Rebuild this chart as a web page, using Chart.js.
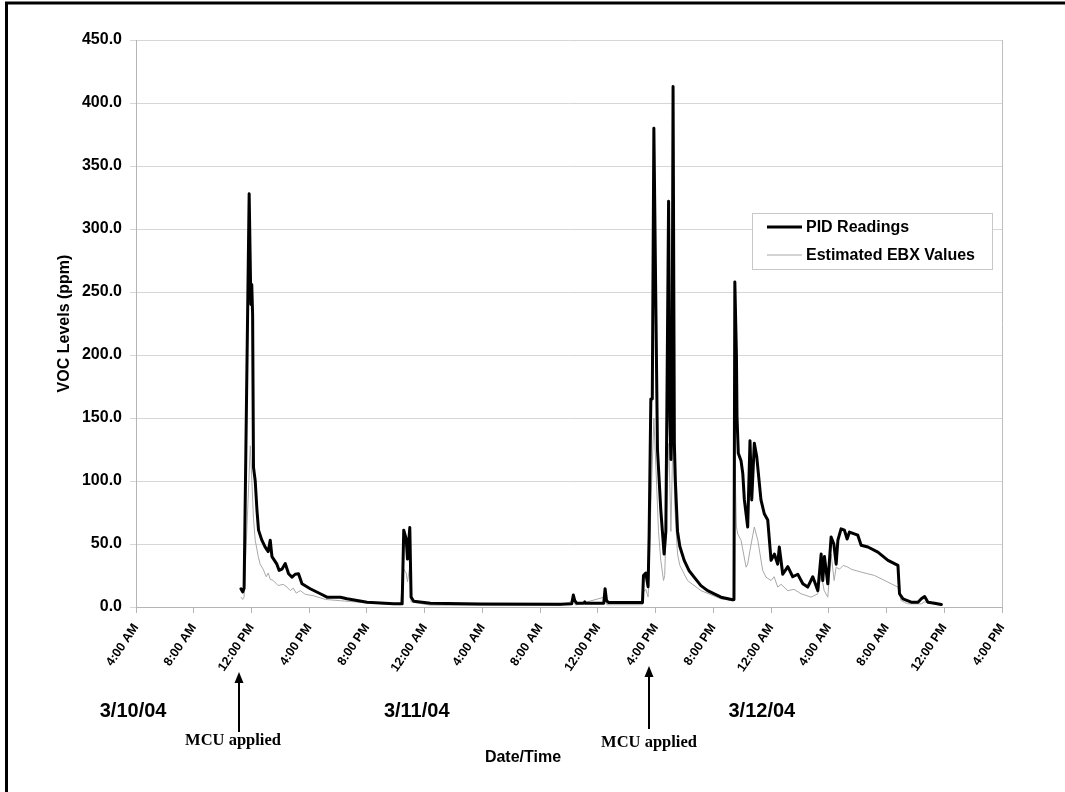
<!DOCTYPE html>
<html>
<head>
<meta charset="utf-8">
<script src="https://cdn.jsdelivr.net/npm/chart.js@4.4.0/dist/chart.umd.min.js"></script>
<style>
  html, body { margin: 0; padding: 0; background: #fff; }
</style>
</head>
<body>
<canvas id="vocChart" width="1065" height="792"></canvas>
<script>
// Hours counted from 3/10/04 12:00 AM
const pidHours = [11.27, 11.39, 11.49, 11.84, 11.96, 12.02, 12.08, 12.14, 12.26, 12.38, 12.49, 12.72, 12.95, 13.16, 13.30, 13.42, 13.76, 13.92, 14.11, 14.34, 14.57, 14.81, 15.03, 15.26, 15.50, 16.07, 16.77, 17.23, 18.16, 18.62, 20.01, 21.86, 22.44, 22.55, 22.72, 22.81, 22.97, 23.06, 23.24, 24.40, 27.87, 33.42, 34.19, 34.30, 34.40, 34.53, 35.02, 35.09, 35.16, 36.41, 36.50, 36.60, 36.75, 39.09, 39.16, 39.32, 39.48, 39.55, 39.67, 39.77, 39.88, 40.13, 40.36, 40.59, 40.71, 40.90, 40.99, 41.06, 41.13, 41.21, 41.30, 41.37, 41.52, 41.68, 41.98, 42.31, 42.67, 43.14, 43.60, 44.53, 45.34, 45.43, 45.49, 45.60, 45.64, 45.73, 45.92, 46.04, 46.15, 46.38, 46.54, 46.66, 46.84, 47.01, 47.30, 47.53, 47.77, 48.00, 48.23, 48.46, 48.57, 48.81, 49.16, 49.50, 49.85, 50.20, 50.54, 50.89, 51.24, 51.47, 51.58, 51.70, 51.93, 52.16, 52.35, 52.51, 52.63, 52.85, 53.08, 53.27, 53.43, 54.01, 54.24, 54.71, 55.40, 56.10, 56.79, 56.90, 57.14, 57.71, 58.18, 58.41, 58.64, 58.87, 59.33, 59.80];
const pidValues = [14.5, 12, 15, 328, 240, 256, 232, 111, 100, 77, 61, 53, 47.5, 44, 53, 40, 34, 29, 30, 34.5, 26.4, 23.7, 26, 26.4, 18.4, 14.5, 10.5, 7.8, 7.8, 6.5, 3.8, 2.5, 2.5, 61, 54, 38, 63, 7.8, 4.6, 3, 2.3, 2.1, 2.5, 9.5, 5, 3, 3, 4, 3, 3, 14.5, 5, 3.5, 3.5, 25, 27, 16, 56, 165, 165, 380, 125, 77, 42, 60, 322, 150, 117, 140, 413, 130, 100, 60, 48, 37, 29, 23.7, 17, 13, 7.8, 5.7, 6, 258, 200, 151, 122, 116, 106, 85, 63.5, 132, 85, 130, 119, 85, 74, 69, 37, 42, 34, 47.6, 26, 32, 24, 26, 18.4, 15.8, 24, 13, 42, 21, 40, 18.4, 55.5, 50, 34, 53, 62, 61, 54, 59.5, 57, 49, 47.6, 43.6, 37, 33, 10.5, 6.5, 3.8, 3.8, 6.5, 8.3, 3.8, 3, 2];

const ebxHours = [11.27, 11.39, 11.49, 11.92, 12.14, 12.26, 12.47, 12.60, 12.81, 13.02, 13.16, 13.30, 13.51, 13.85, 14.20, 14.46, 14.69, 14.90, 15.10, 15.38, 15.73, 16.28, 17.12, 18.16, 20.24, 22.32, 22.55, 22.72, 22.81, 22.97, 23.06, 24.40, 33.42, 34.30, 34.45, 36.50, 36.62, 39.09, 39.16, 39.32, 39.48, 39.55, 39.67, 39.88, 40.06, 40.20, 40.36, 40.55, 40.63, 40.82, 40.92, 41.06, 41.21, 41.33, 41.52, 41.68, 42.21, 43.14, 44.53, 45.34, 45.43, 45.49, 45.60, 45.69, 45.92, 46.27, 46.38, 46.54, 46.84, 47.08, 47.42, 47.65, 48.00, 48.21, 48.46, 48.69, 49.16, 49.59, 50.08, 50.77, 51.24, 51.47, 51.68, 51.93, 52.16, 52.37, 52.51, 52.74, 53.00, 53.32, 53.55, 54.24, 55.17, 56.10, 56.79, 57.01, 57.48, 58.41, 58.61, 59.80];
const ebxValues = [7.8, 6, 8, 128, 70, 53, 40, 34, 30, 24, 27, 22, 21, 17, 18, 15.8, 13, 15, 11, 13, 10, 9, 6, 5, 3, 1.8, 30, 27, 20, 32, 4, 1.5, 1.2, 5, 1.5, 8, 1.8, 1.8, 12, 14, 8, 28, 80, 150, 100, 60, 37, 21, 25, 100, 130, 60, 140, 80, 42, 33, 21, 13, 6.5, 5, 5, 120, 63.5, 58, 53, 31.6, 34, 45, 63.5, 53, 29, 23.7, 21, 24, 15.8, 18, 13, 14, 10.5, 7.8, 10.5, 26, 13, 7.8, 42, 21, 31.6, 30, 33, 31.6, 30, 27.7, 25, 19.7, 15.8, 5, 2.5, 2.5, 4, 1.2];

const clockLabels = ['12:00 AM', '4:00 AM', '8:00 AM', '12:00 PM', '4:00 PM', '8:00 PM'];
const dayLabels = ['3/10/04', '3/11/04', '3/12/04'];
const dayLabelHours = [3.8, 23.45, 47.36];
const mcuHours = [11.17, 39.56];

const FONT = '"Liberation Sans", Arial, sans-serif';

// Legend, date labels, arrows and frame drawn on top
const extras = {
    id: 'extras',
    afterDraw(chart) {
        const ctx = chart.ctx;
        const xs = chart.scales.x;
        const area = chart.chartArea;
        ctx.save();

        // right edge of the plot area
        ctx.strokeStyle = '#bdbdbd';
        ctx.lineWidth = 1;
        ctx.beginPath();
        ctx.moveTo(Math.round(area.right) + 0.5, area.top);
        ctx.lineTo(Math.round(area.right) + 0.5, area.bottom);
        ctx.stroke();

        // legend box
        const lx = 752.5, ly = 213.5, lw = 240, lh = 56;
        ctx.fillStyle = '#fff';
        ctx.fillRect(lx, ly, lw, lh);
        ctx.strokeStyle = '#c8c8c8';
        ctx.strokeRect(lx, ly, lw, lh);
        chart.data.datasets.forEach((ds, i) => {
            const y = 227 + i * 28;
            ctx.strokeStyle = ds.borderColor;
            ctx.lineWidth = ds.borderWidth;
            ctx.beginPath();
            ctx.moveTo(767, y);
            ctx.lineTo(802, y);
            ctx.stroke();
            ctx.fillStyle = '#000';
            ctx.font = 'bold 16px ' + FONT;
            ctx.textAlign = 'left';
            ctx.textBaseline = 'middle';
            ctx.fillText(ds.label, 806, y + 1);
        });

        // date labels
        ctx.fillStyle = '#000';
        ctx.font = 'bold 20px ' + FONT;
        ctx.textAlign = 'center';
        ctx.textBaseline = 'middle';
        dayLabels.forEach((t, i) => ctx.fillText(t, xs.getPixelForValue(dayLabelHours[i]), 711));

        // MCU applied arrows
        const tops = [672, 666];
        const bottoms = [732, 729];
        const textY = [741, 743];
        mcuHours.forEach((h, i) => {
            const ax = Math.round(xs.getPixelForValue(h));
            ctx.strokeStyle = '#000';
            ctx.lineWidth = 2;
            ctx.beginPath();
            ctx.moveTo(ax, bottoms[i]);
            ctx.lineTo(ax, tops[i] + 8);
            ctx.stroke();
            ctx.beginPath();
            ctx.moveTo(ax, tops[i]);
            ctx.lineTo(ax - 4.5, tops[i] + 11);
            ctx.lineTo(ax + 4.5, tops[i] + 11);
            ctx.closePath();
            ctx.fill();
            ctx.font = 'bold 16.5px "Liberation Serif", "Times New Roman", serif';
            ctx.fillText('MCU applied', ax - 6 + i * 6, textY[i]);
        });

        // axis title
        ctx.font = 'bold 16px ' + FONT;
        ctx.fillText('Date/Time', 523, 758);

        // outer frame (left and top edges)
        ctx.strokeStyle = '#000';
        ctx.lineWidth = 3;
        ctx.beginPath();
        ctx.moveTo(6.5, 792);
        ctx.lineTo(6.5, 3);
        ctx.lineTo(1065, 3);
        ctx.stroke();

        ctx.restore();
    }
};

new Chart(document.getElementById('vocChart').getContext('2d'), {
    type: 'line',
    data: {
        datasets: [{
            label: 'PID Readings',
            data: pidHours.map((h, i) => ({ x: h, y: pidValues[i] })),
            borderColor: '#000',
            borderWidth: 3,
            borderJoinStyle: 'round',
            borderCapStyle: 'round',
            pointRadius: 0,
            tension: 0
        }, {
            label: 'Estimated EBX Values',
            data: ebxHours.map((h, i) => ({ x: h, y: ebxValues[i] })),
            borderColor: '#a8a8a8',
            borderWidth: 1,
            borderJoinStyle: 'round',
            pointRadius: 0,
            tension: 0
        }]
    },
    options: {
        responsive: false,
        animation: false,
        layout: { padding: { left: 55, right: 63, top: 40, bottom: 0 } },
        plugins: {
            legend: { display: false },
            tooltip: { enabled: false }
        },
        scales: {
            x: {
                type: 'linear',
                min: 4,
                max: 64,
                afterFit: (scale) => { scale.height = 185; },
                border: { color: '#b5b5b5' },
                grid: { drawOnChartArea: false, tickLength: 6, color: '#b5b5b5' },
                ticks: {
                    stepSize: 4,
                    autoSkip: false,
                    minRotation: 56,
                    maxRotation: 56,
                    padding: 8,
                    color: '#000',
                    font: { family: FONT, size: 12.5, weight: 'bold' },
                    callback: (v) => clockLabels[(v % 24) / 4]
                }
            },
            y: {
                min: 0,
                max: 450,
                afterFit: (scale) => { scale.width = 81; },
                border: { color: '#b5b5b5' },
                grid: { color: '#d6d6d6', tickLength: 6 },
                ticks: {
                    stepSize: 50,
                    padding: 8,
                    color: '#000',
                    font: { family: FONT, size: 16, weight: 'bold' },
                    callback: (v) => v.toFixed(1)
                },
                title: {
                    display: true,
                    text: 'VOC Levels (ppm)',
                    color: '#000',
                    font: { family: FONT, size: 16, weight: 'bold' },
                    padding: { top: 0, bottom: 0 }
                }
            }
        }
    },
    plugins: [extras]
});
</script>
</body>
</html>
